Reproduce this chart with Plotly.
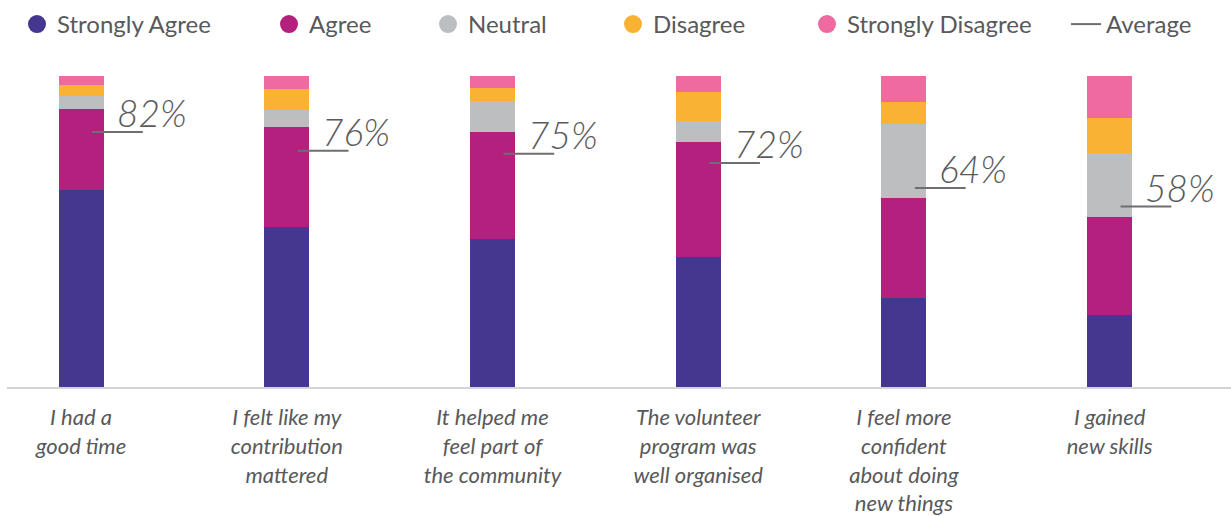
import plotly.graph_objects as go

categories = [
    "I had a<br>good time",
    "I felt like my<br>contribution<br>mattered",
    "It helped me<br>feel part of<br>the community",
    "The volunteer<br>program was<br>well organised",
    "I feel more<br>confident<br>about doing<br>new things",
    "I gained<br>new skills",
]
strongly_agree = [63.3, 51.4, 47.7, 41.8, 28.7, 23.1]
agree = [26.0, 32.2, 34.2, 37.0, 32.1, 31.6]
neutral = [4.4, 5.6, 10.1, 6.8, 23.9, 20.4]
disagree = [3.3, 6.7, 4.2, 9.3, 6.8, 11.4]
strongly_disagree = [3.0, 4.1, 3.8, 5.1, 8.5, 13.5]
average = [82, 76, 75, 72, 64, 58]

series = [
    ("Strongly Agree", strongly_agree, "#45368f"),
    ("Agree", agree, "#b3207d"),
    ("Neutral", neutral, "#bdbec0"),
    ("Disagree", disagree, "#f9b234"),
    ("Strongly Disagree", strongly_disagree, "#ee6a9f"),
]

W, H = 1231, 516
TEXT = "#58595b"
FONT = "Lato, 'Open Sans', sans-serif"

xs = list(range(len(categories)))
fig = go.Figure()

legend_centers = [38, 290, 449, 634, 828, 1087]

for k, (name, vals, color) in enumerate(series):
    fig.add_trace(go.Bar(
        x=xs, y=vals, name=name, marker=dict(color=color, line=dict(width=0)),
        width=0.219, showlegend=False, hoverinfo="y+name",
    ))
    # legend swatch (circle)
    fig.add_trace(go.Scatter(
        x=[None], y=[None], mode="markers", name=name,
        marker=dict(symbol="circle", size=16, color=color, line=dict(color=color, width=2)),
        legend="legend" if k == 0 else f"legend{k+1}",
    ))

# Average lines
ax, ay = [], []
for i, v in enumerate(average):
    ax += [i + 0.053, i + 0.30, None]
    ay += [v, v, None]
fig.add_trace(go.Scatter(
    x=ax, y=ay, mode="lines", name="Average",
    line=dict(color="#6d6e71", width=2), legend="legend6", hoverinfo="skip",
))

for i, v in enumerate(average):
    fig.add_annotation(
        x=i + 0.163, y=v, xref="x", yref="y", text=f"{v}%", showarrow=False,
        xanchor="left", yanchor="bottom", yshift=-5,
        font=dict(family=FONT, size=37, color="#5a5a5c", style="italic", weight=300),
    )

layout_legends = {}
for j, cx in enumerate(legend_centers):
    key = "legend" if j == 0 else f"legend{j+1}"
    layout_legends[key] = dict(
        xref="container", yref="container",
        x=(cx - 21) / W, y=1 - 2 / H, xanchor="left", yanchor="top",
        orientation="h", bgcolor="rgba(0,0,0,0)", borderwidth=0,
        font=dict(family=FONT, size=24, color=TEXT),
        itemclick=False, itemdoubleclick=False,
    )

fig.update_layout(
    width=W, height=H,
    margin=dict(l=7, r=0, t=76, b=129),
    barmode="stack",
    plot_bgcolor="white", paper_bgcolor="white",
    font=dict(family=FONT, color=TEXT),
    xaxis=dict(
        range=[-0.36, 5.59], tickmode="array", tickvals=xs, ticktext=categories,
        showgrid=False, zeroline=False, showline=True, linecolor="#d4d4d6", linewidth=2,
        ticks="", ticklabelstandoff=10,
        tickfont=dict(family=FONT, size=22, color=TEXT, style="italic"),
        fixedrange=True,
    ),
    yaxis=dict(range=[0, 100], visible=False, fixedrange=True),
    **layout_legends,
)

fig.write_html("out.html")
